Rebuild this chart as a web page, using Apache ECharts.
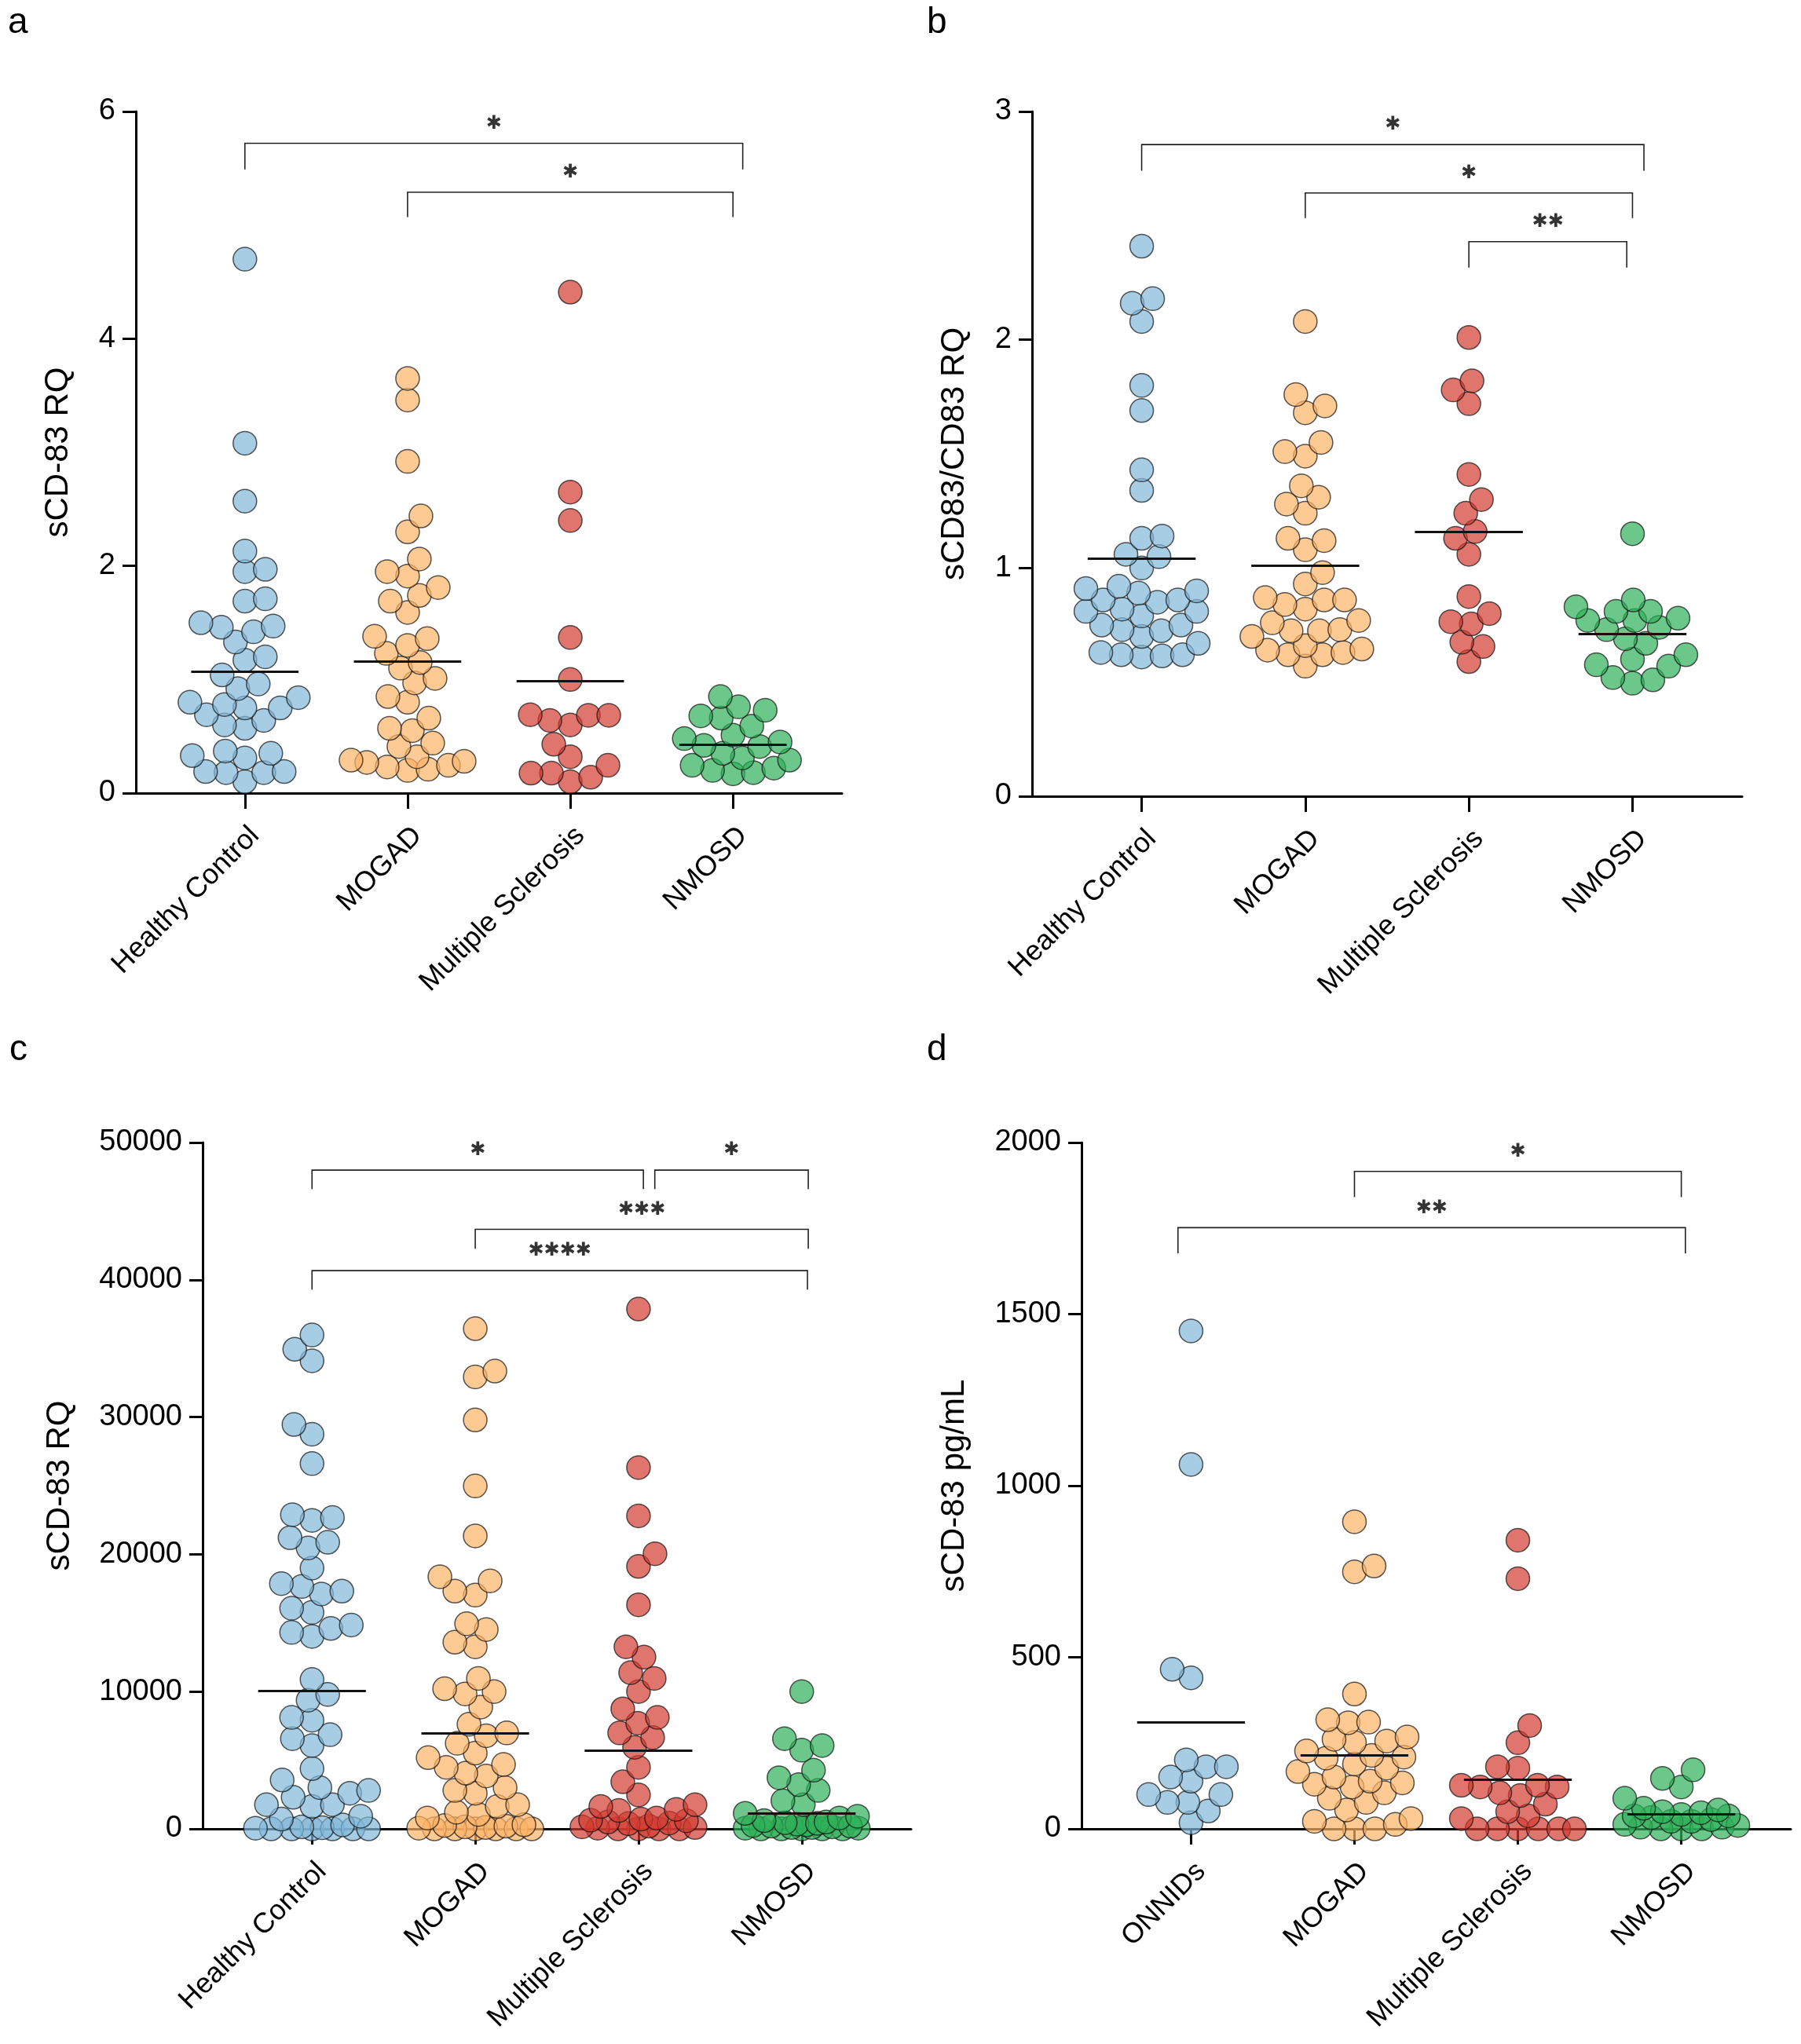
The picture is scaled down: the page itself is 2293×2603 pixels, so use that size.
<!DOCTYPE html>
<html>
<head>
<meta charset="utf-8">
<script src="https://cdn.jsdelivr.net/npm/echarts@6/dist/echarts.min.js"></script>
<style>
  html, body { margin: 0; padding: 0; background: #fff; }
  #chart { width: 2293px; height: 2603px; }
</style>
</head>
<body>
<div id="chart"></div>
<script>
// group names
const groupsRQ = ['Healthy Control', 'MOGAD', 'Multiple Sclerosis', 'NMOSD'];
const groupsPg = ['ONNIDs', 'MOGAD', 'Multiple Sclerosis', 'NMOSD'];

// panel a - sCD-83 RQ
const aHC = [4.70, 3.08, 2.57, 2.13, 1.97, 1.95, 1.71, 1.69, 1.50, 1.47, 1.46, 1.42, 1.33, 1.20, 1.17, 1.04, 0.96, 0.92, 0.84, 0.80, 0.78, 0.75, 0.75, 0.69, 0.64, 0.60, 0.57, 0.37, 0.35, 0.33, 0.31, 0.19, 0.19, 0.18, 0.18, 0.10];
const aMOGAD = [3.65, 3.46, 2.92, 2.44, 2.30, 2.06, 1.95, 1.91, 1.81, 1.74, 1.69, 1.59, 1.38, 1.36, 1.30, 1.23, 1.15, 1.10, 1.01, 0.97, 0.85, 0.80, 0.66, 0.57, 0.55, 0.44, 0.41, 0.32, 0.29, 0.28, 0.27, 0.245, 0.23, 0.21, 0.20];
const aMS = [4.41, 2.65, 2.40, 1.37, 1.00, 0.69, 0.685, 0.685, 0.64, 0.60, 0.43, 0.32, 0.245, 0.176, 0.176, 0.14, 0.10];
const aNMOSD = [0.85, 0.76, 0.73, 0.68, 0.66, 0.59, 0.51, 0.48, 0.45, 0.42, 0.41, 0.35, 0.31, 0.29, 0.245, 0.22, 0.20, 0.18, 0.17];
const aMeans = [1.07, 1.16, 0.99, 0.43];
// [from, to, top, leg end, label]
const aBrackets = [[0, 3.06, 5.72, 5.49, '*'], [1, 3.0, 5.29, 5.07, '*']];

// panel b - sCD83/CD83 RQ
const bHC = [2.41, 2.18, 2.16, 2.08, 1.80, 1.69, 1.43, 1.34, 1.14, 1.13, 1.06, 1.05, 1.00, 0.92, 0.91, 0.90, 0.89, 0.86, 0.86, 0.85, 0.82, 0.81, 0.81, 0.79, 0.75, 0.75, 0.73, 0.725, 0.70, 0.67, 0.63, 0.62, 0.62, 0.615, 0.61];
const bMOGAD = [2.08, 1.76, 1.71, 1.68, 1.55, 1.51, 1.49, 1.36, 1.31, 1.28, 1.24, 1.13, 1.12, 1.08, 0.98, 0.93, 0.87, 0.86, 0.86, 0.84, 0.82, 0.77, 0.76, 0.73, 0.725, 0.725, 0.70, 0.66, 0.645, 0.64, 0.63, 0.62, 0.62, 0.57];
const bMS = [2.01, 1.82, 1.78, 1.72, 1.41, 1.30, 1.24, 1.16, 1.13, 1.06, 0.875, 0.80, 0.765, 0.755, 0.675, 0.656, 0.59];
const bNMOSD = [1.15, 0.86, 0.83, 0.81, 0.81, 0.78, 0.77, 0.77, 0.74, 0.73, 0.69, 0.67, 0.62, 0.60, 0.576, 0.57, 0.52, 0.51, 0.495];
const bMeans = [1.04, 1.01, 1.16, 0.71];
const bBrackets = [[0, 3.07, 2.855, 2.74, '*'], [1, 3.0, 2.643, 2.533, '*'], [2, 2.965, 2.43, 2.316, '**']];

// panel c - sCD-83 RQ
const cHC = [35980, 34940, 34100, 29460, 28750, 26610, 22890, 22680, 22470, 21210, 20880, 20460, 19000, 17870, 17660, 17320, 17110, 16070, 15770, 14850, 14600, 14310, 14020, 10880, 9790, 9370, 8120, 7910, 6860, 6570, 6070, 4390, 3560, 3010, 2800, 2590, 2300, 1760, 1760, 1630, 920, 710, 290, 150, 80, 50, 0, 0, 0, 0, 0, 0];
const cMOGAD = [36440, 33350, 32930, 29790, 24980, 21340, 18370, 18070, 17320, 17030, 14940, 14520, 13600, 13260, 10960, 10210, 10000, 9830, 8870, 7620, 6990, 6780, 6230, 5520, 5190, 4690, 4480, 4060, 3850, 3010, 2800, 2590, 1760, 1630, 1210, 1050, 790, 300, 250, 200, 150, 100, 50, 0, 0, 0, 0, 0, 0];
const cMS = [37870, 26320, 22800, 20040, 19120, 16320, 13260, 12510, 11380, 10960, 10000, 8740, 8120, 7700, 6990, 6650, 5940, 4480, 3430, 2470, 1760, 1630, 1420, 1340, 790, 710, 630, 590, 500, 420, 380, 200, 150, 100, 50, 0, 0, 0, 0];
const cNMOSD = [10000, 6570, 6070, 5730, 4270, 3720, 3220, 2800, 2050, 1760, 1130, 920, 790, 600, 500, 450, 400, 350, 300, 250, 200, 200, 150, 100, 100, 50, 50, 0, 0, 0, 0, 0];
const cMeans = [10040, 6990, 5730, 1130];
const cBrackets = [[0, 2.03, 47990, 46610, '*'], [2.1, 3.04, 47990, 46610, '*'], [1.0, 3.04, 43680, 42260, '***'], [0, 3.035, 40670, 39290, '****']];

// panel d - sCD-83 pg/mL
const dONNID = [1451, 1062, 465, 440, 201, 181, 181, 151, 139, 100, 100, 77, 77, 52, 18];
const dMOGAD = [895, 766, 749, 393, 318, 311, 309, 268, 261, 256, 252, 227, 214, 209, 206, 189, 177, 167, 151, 139, 134, 130, 122, 105, 89, 77, 55, 30, 22, 13, 0, 0, 0];
const dMS = [841, 729, 301, 251, 181, 177, 127, 127, 122, 122, 105, 97, 72, 50, 38, 30, 0, 0, 0, 0, 0, 0];
const dNMOSD = [172, 147, 122, 89, 60, 55, 50, 47, 42, 38, 38, 33, 27, 22, 22, 13, 10, 5, 5, 0, 0, 0];
const dMeans = [311, 214, 144, 42];
const dBrackets = [[1, 3.0, 1916, 1841, '*'], [-0.08, 3.025, 1752, 1677, '**']];

const colors = ['#81b8d8', '#fdb367', '#d33b31', '#2eb059'];
const FONT = 'Liberation Sans';
const XMIN = -0.67, XMAX = 3.67;

const panels = [
  { letter: 'a', names: groupsRQ, groups: [aHC, aMOGAD, aMS, aNMOSD], means: aMeans, brackets: aBrackets,
    ymax: 6, step: 2, yname: 'sCD-83 RQ', left: 173, top: 142, width: 899, height: 868, nameGap: 78, lx: 10, ly: 6 },
  { letter: 'b', names: groupsRQ, groups: [bHC, bMOGAD, bMS, bNMOSD], means: bMeans, brackets: bBrackets,
    ymax: 3, step: 1, yname: 'sCD83/CD83 RQ', left: 1314, top: 142, width: 904, height: 872, nameGap: 78, lx: 1180, ly: 6 },
  { letter: 'c', names: groupsRQ, groups: [cHC, cMOGAD, cMS, cNMOSD], means: cMeans, brackets: cBrackets,
    ymax: 50000, step: 10000, yname: 'sCD-83 RQ', left: 258, top: 1455, width: 902, height: 874, nameGap: 161, lx: 12, ly: 1314 },
  { letter: 'd', names: groupsPg, groups: [dONNID, dMOGAD, dMS, dNMOSD], means: dMeans, brackets: dBrackets,
    ymax: 2000, step: 500, yname: 'sCD-83 pg/mL', left: 1377, top: 1455, width: 903, height: 874, nameGap: 141, lx: 1180, ly: 1314 }
];

// simple beeswarm: spread points sideways in pixel space so circles don't pile up
function swarm(vals, cat, pxY, pxX) {
  const DMIN = 26, HALF = 72;
  const order = vals.map((v, i) => i).sort((p, q) => vals[p] - vals[q]);
  const placed = [];
  const out = [];
  order.forEach((i, k) => {
    const y = vals[i] * pxY;
    const sgn = k % 2 ? 1 : -1;
    let pick = null, fb = 0, fbD = -1;
    for (let s = 0; s <= HALF && pick === null; s++) {
      const cands = s === 0 ? [0] : [s * sgn, -s * sgn];
      for (const dx of cands) {
        let md = Infinity;
        for (const p of placed) {
          const d = Math.hypot(p[0] - dx, p[1] - y);
          if (d < md) md = d;
        }
        if (md >= DMIN) { pick = dx; break; }
        if (md > fbD) { fbD = md; fb = dx; }
      }
    }
    if (pick === null) pick = fb;
    placed.push([pick, y]);
    out.push([cat + pick / pxX, vals[i]]);
  });
  return out;
}

const grid = [], xAxis = [], yAxis = [], series = [], title = [];

panels.forEach((p, pi) => {
  grid.push({ left: p.left, top: p.top, width: p.width, height: p.height });
  title.push({ text: p.letter, left: p.lx, top: p.ly, padding: 0,
    textStyle: { fontSize: 46, fontWeight: 'normal', color: '#000', fontFamily: FONT } });
  xAxis.push({
    gridIndex: pi, type: 'value', min: XMIN, max: XMAX,
    splitLine: { show: false },
    axisLine: { show: true, onZero: false, lineStyle: { color: '#000', width: 3 } },
    axisTick: { show: true, customValues: [0, 1, 2, 3], length: 20, lineStyle: { color: '#000', width: 3 } },
    axisLabel: {
      customValues: [0, 1, 2, 3], rotate: 45, margin: 36, align: 'right', verticalAlign: 'top',
      formatter: (v) => p.names[Math.round(v)],
      fontSize: 36, color: '#000', fontFamily: FONT
    }
  });
  yAxis.push({
    gridIndex: pi, type: 'value', min: 0, max: p.ymax, interval: p.step,
    name: p.yname, nameLocation: 'middle', nameGap: p.nameGap,
    nameTextStyle: { fontSize: 42, color: '#000', fontFamily: FONT },
    splitLine: { show: false },
    axisLine: { show: true, onZero: false, lineStyle: { color: '#000', width: 3 } },
    axisTick: { show: true, length: 17, lineStyle: { color: '#000', width: 3 } },
    axisLabel: { fontSize: 38, color: '#000', margin: 26, fontFamily: FONT, formatter: (v) => String(v) }
  });

  const pxY = p.height / p.ymax;
  const pxX = p.width / (XMAX - XMIN);

  p.groups.forEach((vals, gi) => {
    series.push({
      type: 'scatter', xAxisIndex: pi, yAxisIndex: pi,
      symbol: 'circle', symbolSize: 30, z: 2,
      itemStyle: { color: colors[gi], opacity: 0.7, borderColor: '#111', borderWidth: 1.5 },
      data: swarm(vals, gi, pxY, pxX)
    });
  });

  // mean lines
  series.push({
    type: 'lines', coordinateSystem: 'cartesian2d', xAxisIndex: pi, yAxisIndex: pi, z: 4,
    lineStyle: { color: '#111', width: 3, opacity: 1 },
    data: p.means.map((m, i) => ({ coords: [[i - 0.33, m], [i + 0.33, m]] }))
  });

  // significance brackets
  series.push({
    type: 'lines', coordinateSystem: 'cartesian2d', polyline: true, xAxisIndex: pi, yAxisIndex: pi, z: 4,
    lineStyle: { color: '#222', width: 1.6, opacity: 1 },
    data: p.brackets.map(b => ({ coords: [[b[0], b[3]], [b[0], b[2]], [b[1], b[2]], [b[1], b[3]]] }))
  });

  // stars, drawn with the heavy asterisk glyph
  series.push({
    type: 'scatter', xAxisIndex: pi, yAxisIndex: pi, symbolSize: 2, z: 5,
    itemStyle: { color: 'rgba(0,0,0,0)', borderWidth: 0 },
    label: {
      show: true, position: 'inside', offset: [0, -25],
      formatter: (d) => d.name.replace(/\*/g, '\u2731'),
      fontSize: 24, color: '#000', fontFamily: 'DejaVu Sans'
    },
    data: p.brackets.map(b => ({ name: b[4], value: [(b[0] + b[1]) / 2, b[2]] }))
  });
});

const chart = echarts.init(document.getElementById('chart'));
chart.setOption({
  animation: false,
  backgroundColor: '#fff',
  title, grid, xAxis, yAxis, series
});
</script>
</body>
</html>
